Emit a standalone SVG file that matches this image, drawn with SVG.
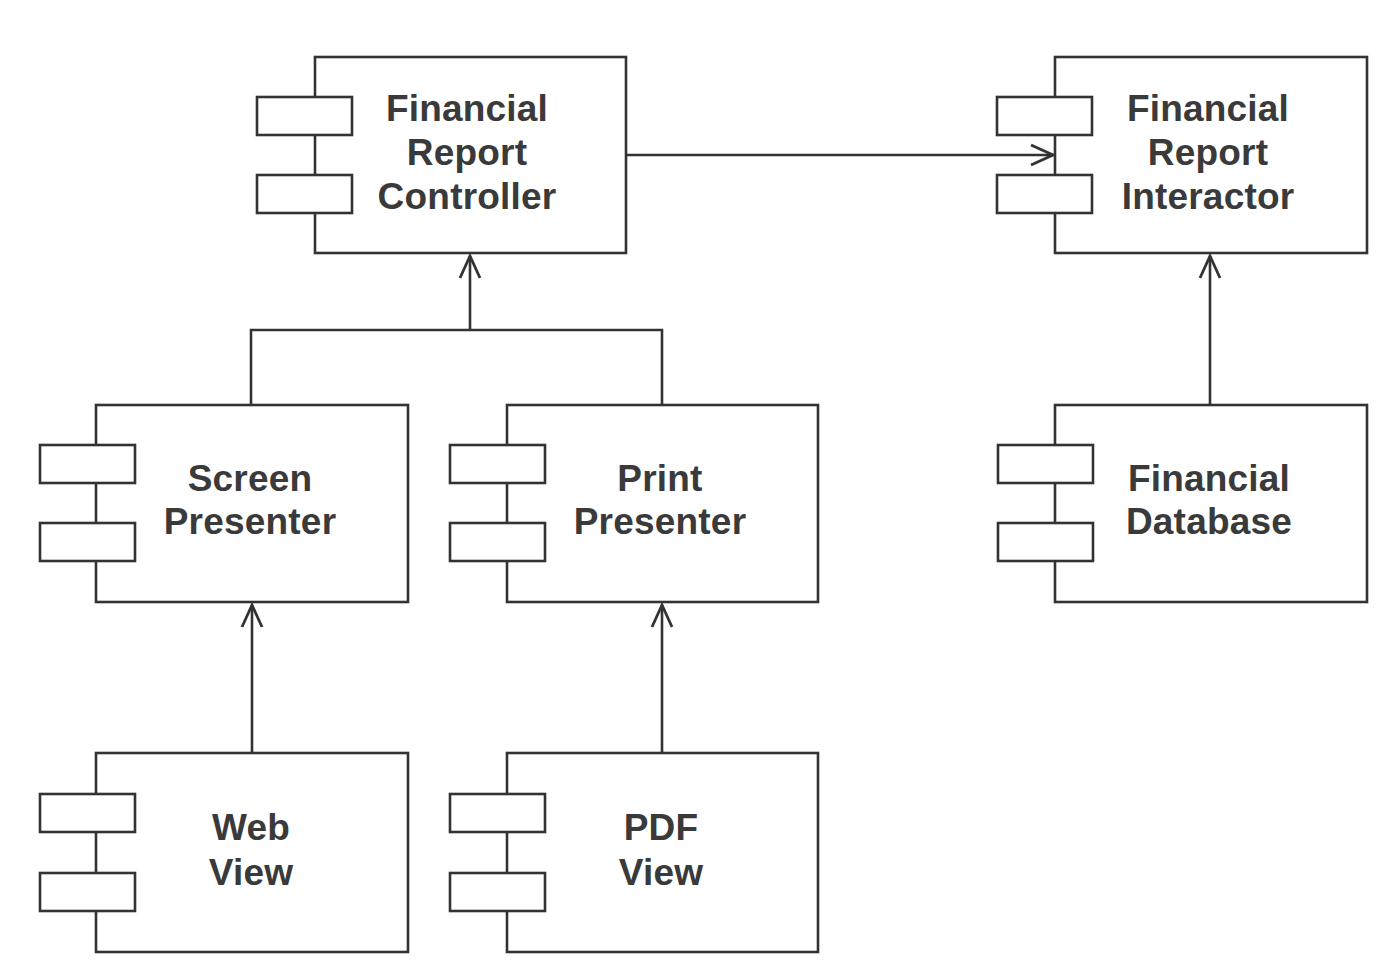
<svg xmlns="http://www.w3.org/2000/svg" width="1384" height="972" viewBox="0 0 1384 972">
<defs>
<style>
.box{fill:#fff;stroke:#333;stroke-width:2.6}
.tab{fill:#fff;stroke:#333;stroke-width:2.6}
.lbl{font-family:"Liberation Sans",Arial,sans-serif;font-weight:bold;font-size:37px;fill:#3a3a3a;text-anchor:middle;letter-spacing:0.2px}
.con{fill:none;stroke:#333;stroke-width:2.6}
</style>
<marker id="open" viewBox="0 0 28 24" refX="25" refY="12" markerWidth="28" markerHeight="24" markerUnits="userSpaceOnUse" orient="auto">
<path d="M3,2 L25,12 L3,22" fill="none" stroke="#333" stroke-width="2.8"/>
</marker>
</defs>
<rect width="1384" height="972" fill="#fff"/>
<g id="connectors">
<line class="con" x1="626" y1="155" x2="1053" y2="155" marker-end="url(#open)"/>
<polyline class="con" points="251,405 251,330 662,330 662,405"/>
<line class="con" x1="470" y1="330" x2="470" y2="256" marker-end="url(#open)"/>
<line class="con" x1="1210" y1="405" x2="1210" y2="256" marker-end="url(#open)"/>
<line class="con" x1="252" y1="753" x2="252" y2="605" marker-end="url(#open)"/>
<line class="con" x1="662" y1="753" x2="662" y2="605" marker-end="url(#open)"/>
</g>
<g id="controller">
<rect class="box" x="315" y="57" width="311" height="196"/>
<rect class="tab" x="257" y="97" width="95" height="38"/>
<rect class="tab" x="257" y="175" width="95" height="38"/>
<text class="lbl" x="467" y="121">Financial</text>
<text class="lbl" x="467" y="165">Report</text>
<text class="lbl" x="467" y="209">Controller</text>
</g>
<g id="interactor">
<rect class="box" x="1055" y="57" width="312" height="196"/>
<rect class="tab" x="997" y="97" width="95" height="38"/>
<rect class="tab" x="997" y="175" width="95" height="38"/>
<text class="lbl" x="1208" y="121">Financial</text>
<text class="lbl" x="1208" y="165">Report</text>
<text class="lbl" x="1208" y="209">Interactor</text>
</g>
<g id="screen-presenter">
<rect class="box" x="96" y="405" width="312" height="197"/>
<rect class="tab" x="40" y="445" width="95" height="38"/>
<rect class="tab" x="40" y="523" width="95" height="38"/>
<text class="lbl" x="250" y="491">Screen</text>
<text class="lbl" x="250" y="534">Presenter</text>
</g>
<g id="print-presenter">
<rect class="box" x="507" y="405" width="311" height="197"/>
<rect class="tab" x="450" y="445" width="95" height="38"/>
<rect class="tab" x="450" y="523" width="95" height="38"/>
<text class="lbl" x="660" y="491">Print</text>
<text class="lbl" x="660" y="534">Presenter</text>
</g>
<g id="financial-database">
<rect class="box" x="1055" y="405" width="312" height="197"/>
<rect class="tab" x="998" y="445" width="95" height="38"/>
<rect class="tab" x="998" y="523" width="95" height="38"/>
<text class="lbl" x="1209" y="491">Financial</text>
<text class="lbl" x="1209" y="534">Database</text>
</g>
<g id="web-view">
<rect class="box" x="96" y="753" width="312" height="199"/>
<rect class="tab" x="40" y="794" width="95" height="38"/>
<rect class="tab" x="40" y="873" width="95" height="38"/>
<text class="lbl" x="251" y="840">Web</text>
<text class="lbl" x="251" y="885">View</text>
</g>
<g id="pdf-view">
<rect class="box" x="507" y="753" width="311" height="199"/>
<rect class="tab" x="450" y="794" width="95" height="38"/>
<rect class="tab" x="450" y="873" width="95" height="38"/>
<text class="lbl" x="661" y="840">PDF</text>
<text class="lbl" x="661" y="885">View</text>
</g>
</svg>
